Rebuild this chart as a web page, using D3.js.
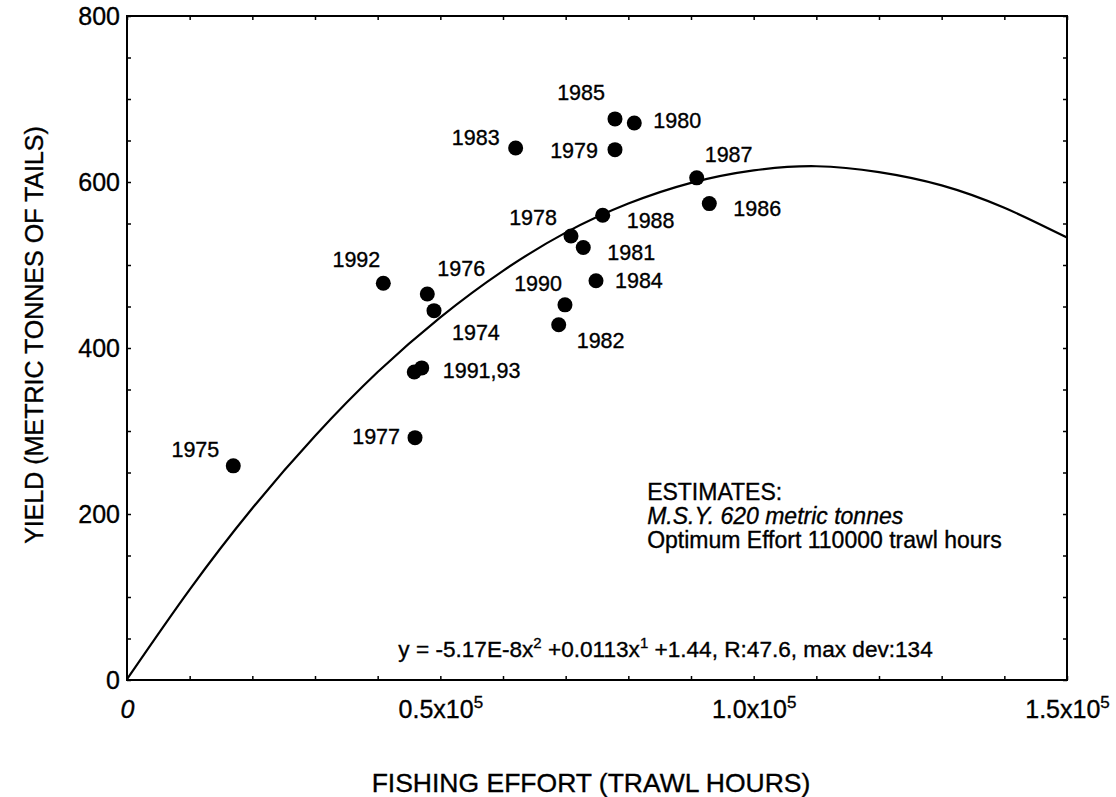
<!DOCTYPE html>
<html>
  <head>
    <meta charset="utf-8"/>
    <title>Yield vs fishing effort</title>
    <script src="https://cdn.jsdelivr.net/npm/d3@7"></script>
    <style>
      body { margin: 0; background: #fff; }
      text { font-family: "Liberation Sans", Arial, sans-serif; fill: #000; stroke: #000; stroke-width: 0.35px; }
    </style>
  </head>
  <body>
    <script>
      // observed catch per year
      const years  = ["1974","1975","1976","1977","1978","1979","1980","1981","1982","1983",
                      "1984","1985","1986","1987","1988","1990","1991","1992","1993"]
      const effort = [48990, 16960, 47920, 45960, 70850, 77870, 80950, 72810, 68890, 62020,
                      74840, 77870, 92920, 90910, 75910, 69890, 45840, 40900, 47030]
      const yieldT = [445, 258, 465, 292, 535, 639, 671, 521, 428, 641,
                      481, 676, 574, 605, 560, 452, 371, 478, 376]
      const pointLabels = ["1974","1975","1976","1977","1978","1979","1980","1981","1982","1983",
                           "1984","1985","1986","1987","1988","1990","","1992","1991,93"]

      // fitted yield curve
      const curveEffort = [0, 10000, 20000, 30000, 40000, 50000, 60000, 70000,
                           80000, 90000, 100000, 110000, 120000, 130000, 140000, 150000]
      const curveYield  = [1, 109, 207, 294, 371, 437, 493, 539,
                           574, 599, 614, 619, 612, 596, 569, 533]

      const xTickValues = [0, 50000, 100000, 150000]
      const xTickBase   = ["0", "0.5x10", "1.0x10", "1.5x10"]
      const xTickExp    = ["", "5", "5", "5"]
      const yTickValues = [0, 200, 400, 600, 800]

      // label placement next to each dot: [anchor, dx, dy]
      const labelPos = [
        ["start", 18, 29], ["end", -14, -9], ["start", 10, -18], ["end", -15, 6],
        ["end", -14, -11], ["end", -17, 8], ["start", 19, 5], ["start", 24, 12],
        ["start", 18, 23], ["end", -16, -3], ["start", 19, 7], ["end", -10, -19],
        ["start", 24, 12], ["start", 8, -16], ["start", 24, 13], ["end", -3, -14],
        ["start", 0, 0], ["end", -3, -16], ["start", 21, 10]
      ]

      const W = 1116, H = 797
      const margin = {top: 16, right: 49, bottom: 117, left: 127}

      const svg = d3.select("body").append("svg")
        .attr("width", W)
        .attr("height", H)

      const x = d3.scaleLinear().domain([0, 150000]).range([margin.left, W - margin.right])
      const y = d3.scaleLinear().domain([0, 800]).range([H - margin.bottom, margin.top])

      // small inward ticks on all four sides
      const sides = [
        [d3.axisTop(x).ticks(15), `translate(0,${y(0)})`],
        [d3.axisBottom(x).ticks(15), `translate(0,${y(800)})`],
        [d3.axisRight(y).ticks(16), `translate(${x(0)},0)`],
        [d3.axisLeft(y).ticks(16), `translate(${x(150000)},0)`]
      ]
      sides.forEach(([ax, tr]) => {
        const g = svg.append("g")
          .attr("transform", tr)
          .call(ax.tickSize(4).tickSizeOuter(0).tickFormat(""))
        g.select(".domain").remove()
        g.selectAll("line").attr("stroke", "#000").attr("stroke-width", 1.5)
      })

      // y tick labels
      const yl = svg.append("g")
        .attr("transform", `translate(${x(0)},0)`)
        .call(d3.axisLeft(y).tickValues(yTickValues).tickSize(0).tickPadding(7))
      yl.select(".domain").remove()
      yl.selectAll("text")
        .attr("font-family", "Liberation Sans, Arial, sans-serif")
        .attr("font-size", 25)

      // x tick labels with exponents
      const xl = svg.append("g")
        .attr("transform", `translate(0,${y(0)})`)
        .call(d3.axisBottom(x).tickValues(xTickValues).tickSize(0).tickPadding(20).tickFormat(""))
      xl.select(".domain").remove()
      xl.selectAll("text").each(function(d, i) {
        const t = d3.select(this)
          .attr("font-family", "Liberation Sans, Arial, sans-serif")
          .attr("font-size", 25)
        t.append("tspan").text(xTickBase[i])
          .attr("font-style", i === 0 ? "italic" : null)
        if (xTickExp[i]) {
          t.append("tspan").text(xTickExp[i])
            .attr("font-size", 17)
            .attr("dy", -10)
        }
      })

      // fitted curve
      const line = d3.line()
        .x((d, i) => x(curveEffort[i]))
        .y(d => y(d))
        .curve(d3.curveNatural)

      svg.append("path")
        .datum(curveYield)
        .attr("d", line)
        .attr("fill", "none")
        .attr("stroke", "#000")
        .attr("stroke-width", 2.2)

      // frame
      svg.append("rect")
        .attr("x", x(0))
        .attr("y", y(800))
        .attr("width", x(150000) - x(0))
        .attr("height", y(0) - y(800))
        .attr("fill", "none")
        .attr("stroke", "#000")
        .attr("stroke-width", 2)

      // dots
      svg.selectAll("circle.pt")
        .data(years)
        .enter()
        .append("circle")
        .attr("class", "pt")
        .attr("cx", (d, i) => x(effort[i]))
        .attr("cy", (d, i) => y(yieldT[i]))
        .attr("r", 7.5)
        .attr("fill", "#000")

      svg.selectAll("text.lbl")
        .data(pointLabels)
        .enter()
        .append("text")
        .attr("class", "lbl")
        .attr("x", (d, i) => x(effort[i]) + labelPos[i][1])
        .attr("y", (d, i) => y(yieldT[i]) + labelPos[i][2])
        .attr("text-anchor", (d, i) => labelPos[i][0])
        .attr("font-size", 21.5)
        .text(d => d)

      // estimates box
      const est = svg.append("text")
        .attr("x", x(83000))
        .attr("y", 500)
        .attr("font-size", 23)
      est.append("tspan").attr("x", x(83000)).text("ESTIMATES:")
      est.append("tspan").attr("x", x(83000)).attr("dy", 24)
        .attr("font-style", "italic").text("M.S.Y. 620 metric tonnes")
      est.append("tspan").attr("x", x(83000)).attr("dy", 24)
        .text("Optimum Effort 110000 trawl hours")

      // equation
      const eq = svg.append("text")
        .attr("x", x(43300))
        .attr("y", 657)
        .attr("font-size", 22.6)
      eq.append("tspan").text("y = -5.17E-8x")
      eq.append("tspan").text("2").attr("font-size", 15).attr("dy", -9)
      eq.append("tspan").text(" +0.0113x").attr("dy", 9)
      eq.append("tspan").text("1").attr("font-size", 15).attr("dy", -9)
      eq.append("tspan").text(" +1.44, R:47.6, max dev:134").attr("dy", 9)

      // axis titles
      svg.append("text")
        .attr("transform", "rotate(-90)")
        .attr("x", -335)
        .attr("y", 43)
        .attr("text-anchor", "middle")
        .attr("font-size", 25)
        .text("YIELD (METRIC TONNES OF TAILS)")

      svg.append("text")
        .attr("x", 591)
        .attr("y", 792)
        .attr("text-anchor", "middle")
        .attr("font-size", 26.5)
        .text("FISHING EFFORT (TRAWL HOURS)")
    </script>
  </body>
</html>
